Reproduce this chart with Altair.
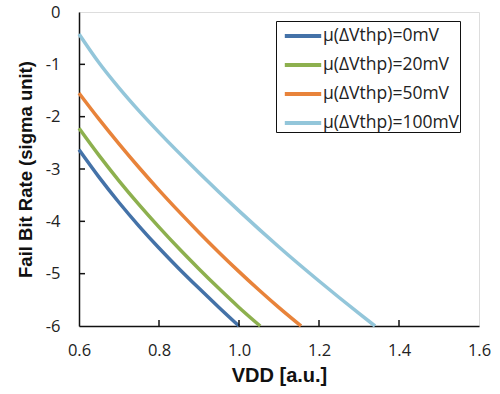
import altair as alt
import pandas as pd

series_names = ["μ(ΔVthp)=0mV", "μ(ΔVthp)=20mV", "μ(ΔVthp)=50mV", "μ(ΔVthp)=100mV"]
series_colors = ["#4472A8", "#8DB04E", "#E8833A", "#93C6DA"]

vdd_0 = [0.6, 0.65, 0.7, 0.75, 0.8, 0.85, 0.9, 0.95, 1.0]
fbr_0 = [-2.63, -3.155, -3.64, -4.09, -4.51, -4.905, -5.28, -5.645, -6.0]

vdd_20 = [0.6, 0.65, 0.7, 0.75, 0.8, 0.85, 0.9, 0.95, 1.0, 1.053]
fbr_20 = [-2.22, -2.74, -3.225, -3.68, -4.11, -4.52, -4.91, -5.285, -5.645, -6.0]

vdd_50 = [0.6, 0.65, 0.7, 0.75, 0.8, 0.85, 0.9, 0.95, 1.0, 1.05, 1.1, 1.155]
fbr_50 = [-1.55, -2.047, -2.519, -2.971, -3.403, -3.815, -4.212, -4.594, -4.961, -5.313, -5.65, -6.0]

vdd_100 = [0.6, 0.65, 0.7, 0.75, 0.8, 0.9, 1.0, 1.1, 1.2, 1.3, 1.34]
fbr_100 = [-0.42, -0.97, -1.45, -1.89, -2.30, -3.07, -3.80, -4.49, -5.14, -5.76, -6.0]

x_ticks = [0.8, 1.0, 1.2, 1.4]
y_ticks = [-1, -2, -3, -4, -5]

rows = []
for name, xs, ys in zip(series_names, [vdd_0, vdd_20, vdd_50, vdd_100],
                        [fbr_0, fbr_20, fbr_50, fbr_100]):
    for i, (x, y) in enumerate(zip(xs, ys)):
        rows.append({"series": name, "vdd": x, "fbr": y, "order": i})
df = pd.DataFrame(rows)

W, H = 400, 314
xscale = alt.Scale(domain=[0.6, 1.6], nice=False, zero=False)
yscale = alt.Scale(domain=[-6, 0], nice=False, zero=False)

LABEL_FONT = "Open Sans"
TITLE_FONT = "Liberation Sans"

lines = alt.Chart(df).mark_line(strokeWidth=3.5, interpolate="monotone").encode(
    x=alt.X("vdd:Q", scale=xscale,
            axis=alt.Axis(title="VDD [a.u.]", values=[0.6, 0.8, 1.0, 1.2, 1.4, 1.6],
                          format=".1f", ticks=False, tickSize=0, grid=False,
                          labelFlush=False, labelOverlap=False,
                          labelPadding=16, labelFontSize=16.5, labelFont=LABEL_FONT,
                          labelColor="#222", titleFont=TITLE_FONT, titleFontSize=20,
                          titleFontWeight="bold", titleColor="#111", titlePadding=7,
                          domainColor="#111", domainWidth=1.5)),
    y=alt.Y("fbr:Q", scale=yscale,
            axis=alt.Axis(title="Fail Bit Rate (sigma unit)", values=[0, -1, -2, -3, -4, -5, -6],
                          labelExpr="datum.value", ticks=False, tickSize=0, grid=False,
                          labelFlush=False, labelOverlap=False,
                          labelPadding=19, labelFontSize=16.5, labelFont=LABEL_FONT,
                          labelColor="#222", titleFont=TITLE_FONT, titleFontSize=18.5,
                          titleFontWeight="bold", titleColor="#111", titlePadding=10,
                          domainColor="#111", domainWidth=1.5)),
    color=alt.Color("series:N",
                    scale=alt.Scale(domain=series_names, range=series_colors),
                    legend=alt.Legend(title=None, orient="none", legendX=197, legendY=9,
                                      symbolType="M-1.4,0H1.4", symbolStrokeWidth=4,
                                      symbolSize=676, symbolFillColor="transparent",
                                      symbolOffset=12,
                                      labelFont=LABEL_FONT,
                                      labelFontSize=17.5, labelColor="#222",
                                      rowPadding=5, padding=0,
                                      strokeColor="#111", fillColor="white",
                                      labelOffset=5)),
    order="order:Q",
)

xt = pd.DataFrame({"v": x_ticks})
yt = pd.DataFrame({"v": y_ticks})

xtick_layer = alt.Chart(xt).mark_rule(color="#111", strokeWidth=1.5).encode(
    x=alt.X("v:Q", scale=xscale),
    y=alt.value(H),
    y2=alt.value(H - 6),
)
ytick_layer = alt.Chart(yt).mark_rule(color="#111", strokeWidth=1.5).encode(
    y=alt.Y("v:Q", scale=yscale),
    x=alt.value(0),
    x2=alt.value(6),
)

chart = alt.layer(lines, xtick_layer, ytick_layer).properties(
    width=W, height=H,
    autosize=alt.AutoSizeParams(type="none"),
    padding={"left": 79, "top": 12, "right": 21, "bottom": 68},
).configure_view(stroke="#111", strokeWidth=1.5).configure(background="white")

chart.save("out.html", embed_options={"renderer": "svg", "actions": False})
